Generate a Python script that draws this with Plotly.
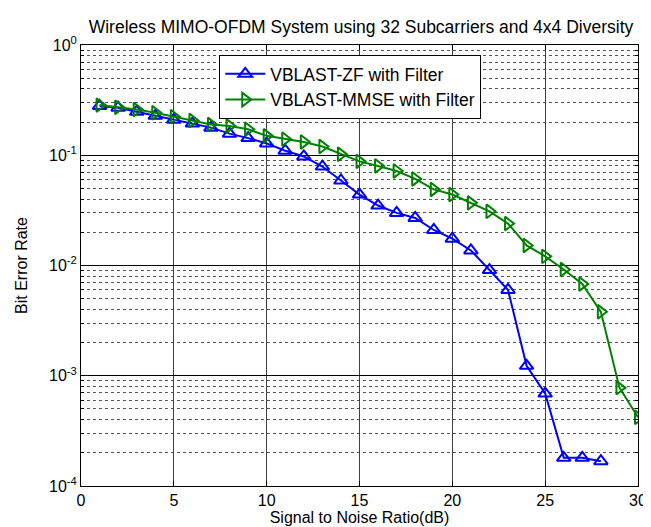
import plotly.graph_objects as go

snr_zf = list(range(1, 29))
ber_zf = [0.28, 0.27, 0.248, 0.228, 0.21, 0.194, 0.178, 0.157, 0.143, 0.128,
          0.110, 0.0975, 0.079, 0.059, 0.044, 0.035, 0.030, 0.027, 0.021, 0.0175,
          0.0137, 0.0091, 0.0060, 0.00123, 0.00069, 0.00018, 0.00018, 0.000168]

snr_mmse = list(range(1, 31))
ber_mmse = [0.285, 0.272, 0.26, 0.243, 0.224, 0.207, 0.19, 0.184, 0.172, 0.15,
            0.14, 0.132, 0.12, 0.102, 0.088, 0.080, 0.072, 0.061, 0.049, 0.044,
            0.037, 0.031, 0.024, 0.0152, 0.0121, 0.0092, 0.0068, 0.0038, 0.00078, 0.00042]

x_ticks = [0, 5, 10, 15, 20, 25, 30]
y_ticks = [1e-4, 1e-3, 1e-2, 1e-1, 1]
y_ticktext = ["10<sup>-4</sup>", "10<sup>-3</sup>", "10<sup>-2</sup>", "10<sup>-1</sup>", "10<sup>0</sup>"]
y_minor = [m * 10 ** e for e in range(-4, 0) for m in range(2, 10)]

title = "Wireless MIMO-OFDM System using 32 Subcarriers and 4x4 Diversity"
names = ["VBLAST-ZF with Filter", "VBLAST-MMSE with Filter"]

font = "Liberation Sans, Arial, sans-serif"

fig = go.Figure()
fig.add_trace(go.Scatter(
    x=snr_zf, y=ber_zf, mode="lines+markers", name=names[0],
    line=dict(color="#0000FF", width=2),
    marker=dict(symbol="triangle-up-open", size=12, color="#0000FF", line=dict(width=2))))
fig.add_trace(go.Scatter(
    x=snr_mmse, y=ber_mmse, mode="lines+markers", name=names[1],
    line=dict(color="#008000", width=2),
    marker=dict(symbol="triangle-right-open", size=12, color="#008000", line=dict(width=2))))

fig.update_layout(
    width=651, height=527,
    margin=dict(l=73, r=18, t=37, b=48),
    paper_bgcolor="white", plot_bgcolor="white",
    font=dict(family=font, size=16, color="black"),
    title=dict(text=title, x=(73 + 633) / 2 / 651, xanchor="center", y=1 - 19 / 527, yanchor="middle",
               font=dict(size=17.5, family=font, color="black")),
    showlegend=True,
    legend=dict(x=(212 - 73) / 560, y=1 - (47 - 37) / 442, xanchor="left", yanchor="top",
                bgcolor="white", bordercolor="black", borderwidth=1,
                font=dict(size=17.5, family=font), itemwidth=40,
                tracegroupgap=0),
)
fig.update_xaxes(
    range=[0, 30], tickvals=x_ticks, ticks="inside", ticklen=5, tickcolor="black",
    showline=True, linecolor="black", linewidth=1, mirror="allticks",
    showgrid=True, gridcolor="#404040", gridwidth=1, zeroline=False,
    title=dict(text="Signal to Noise Ratio(dB)", font=dict(size=16), standoff=3),
    tickfont=dict(size=16),
)
fig.update_yaxes(
    type="log", range=[-4, 0], tickvals=y_ticks, ticktext=y_ticktext,
    ticks="inside", ticklen=5, tickcolor="black",
    showline=True, linecolor="black", linewidth=1, mirror="allticks",
    showgrid=True, gridcolor="black", gridwidth=1, zeroline=False,
    minor=dict(tickvals=y_minor, showgrid=True, griddash="dot", gridcolor="#555555",
               gridwidth=1, ticks="inside", ticklen=3, tickcolor="black"),
    title=dict(text="Bit Error Rate", font=dict(size=16), standoff=17),
    tickfont=dict(size=16),
)

fig.write_html("out.html")
